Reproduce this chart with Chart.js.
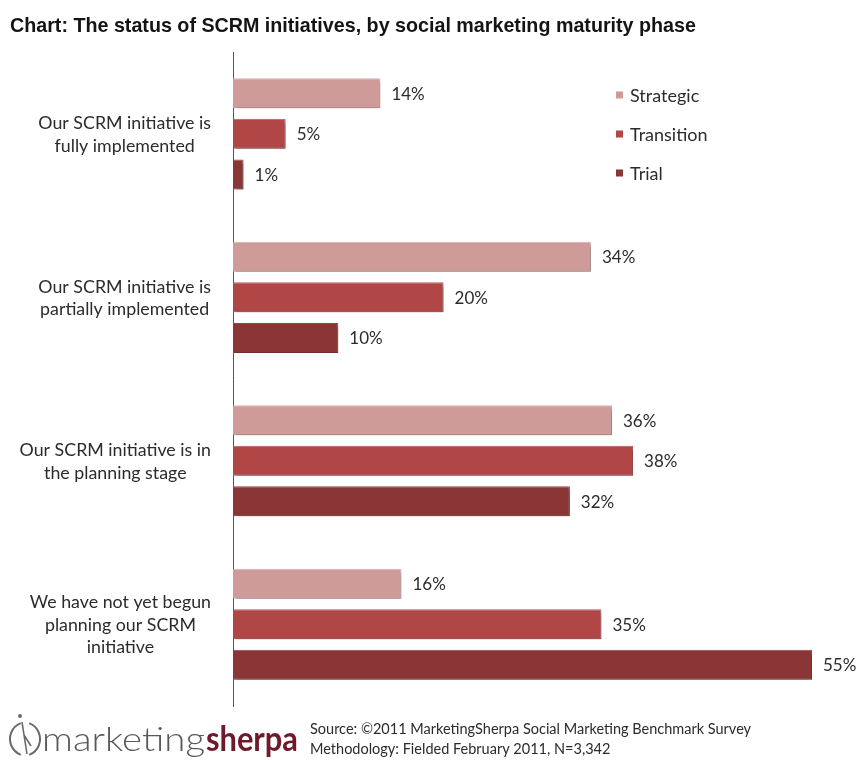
<!DOCTYPE html>
<html>
<head>
<meta charset="utf-8">
<script src="https://cdn.jsdelivr.net/npm/chart.js@4.4.1/dist/chart.umd.min.js"></script>
<style>
  html, body { margin: 0; padding: 0; background: #ffffff; }
  #wrap { width: 861px; height: 760px; }
</style>
</head>
<body>
<div id="wrap"><canvas id="c" width="861" height="760"></canvas></div>
<script>
// Survey answers (one wrapped label per category)
const categories = [
  ['Our SCRM initiative is', 'fully implemented'],
  ['Our SCRM initiative is', 'partially implemented'],
  ['Our SCRM initiative is in', 'the planning stage'],
  ['We have not yet begun', 'planning our SCRM', 'initiative']
];
const seriesNames = ['Strategic', 'Transition', 'Trial'];
const strategic = [14, 34, 36, 16];
const transition = [5, 20, 38, 35];
const trial = [1, 10, 32, 55];

const seriesColors = ['#cf9b99', '#b04646', '#8a3636'];
const seriesBorders = ['#dcaeac', '#c25656', '#9b4242'];

const titleText = 'Chart: The status of SCRM initiatives, by social marketing maturity phase';
const sourceLines = [
  'Source: \u00a92011 MarketingSherpa Social Marketing Benchmark Survey',
  'Methodology: Fielded February 2011, N=3,342'
];

const TEXT = '#2b2b2b';
const BODY_FONT = 'Lato, "Open Sans", sans-serif';

// Soft drop shadow under the bars, plus value labels at their ends
const barDecor = {
  id: 'barDecor',
  beforeDatasetsDraw(chart) {
    const ctx = chart.ctx;
    ctx.save();
    ctx.shadowColor = 'rgba(0,0,0,0.32)';
    ctx.shadowBlur = 3;
    ctx.shadowOffsetX = 2;
    ctx.shadowOffsetY = 3;
  },
  afterDatasetsDraw(chart) {
    const ctx = chart.ctx;
    ctx.restore();
    ctx.save();
    ctx.font = '17px ' + BODY_FONT;
    ctx.fillStyle = TEXT;
    ctx.textAlign = 'left';
    ctx.textBaseline = 'middle';
    chart.data.datasets.forEach((ds, di) => {
      chart.getDatasetMeta(di).data.forEach((bar, i) => {
        ctx.fillText(ds.data[i] + '%', bar.x + 11, bar.y + 1);
      });
    });
    ctx.restore();
  }
};

// Category labels: each block ends just left of the axis, lines centred within it
const categoryLabels = {
  id: 'categoryLabels',
  afterDraw(chart) {
    const ctx = chart.ctx;
    const y = chart.scales.y;
    const lineH = 22.5;
    const blockRight = 211;
    ctx.save();
    ctx.font = '17.8px ' + BODY_FONT;
    ctx.fillStyle = TEXT;
    ctx.textAlign = 'center';
    ctx.textBaseline = 'middle';
    categories.forEach((lines, i) => {
      const cy = y.getPixelForValue(i) + 1;
      const widest = Math.max(...lines.map(l => ctx.measureText(l).width));
      const cx = blockRight - widest / 2;
      const top = cy - (lines.length - 1) * lineH / 2;
      lines.forEach((l, k) => ctx.fillText(l, cx, top + k * lineH));
    });
    ctx.restore();
  }
};

// Legend drawn inside the plot area, top right
const sideLegend = {
  id: 'sideLegend',
  afterDraw(chart) {
    const ctx = chart.ctx;
    const rows = [95, 134, 173];
    ctx.save();
    ctx.font = '18px ' + BODY_FONT;
    ctx.textBaseline = 'middle';
    ctx.textAlign = 'left';
    chart.data.datasets.forEach((ds, i) => {
      ctx.fillStyle = ds.backgroundColor;
      ctx.fillRect(616, rows[i] - 3.5, 7, 7);
      ctx.fillStyle = TEXT;
      ctx.fillText(ds.label, 630, rows[i] + 1);
    });
    ctx.restore();
  }
};

// Publisher mark and source notes along the bottom
const footer = {
  id: 'footer',
  afterDraw(chart) {
    const ctx = chart.ctx;
    ctx.save();
    // emblem
    ctx.strokeStyle = '#6a6a6a';
    ctx.lineWidth = 2;
    ctx.beginPath();
    ctx.arc(27, 739, 17, Math.PI * 0.62, Math.PI * 1.38);
    ctx.stroke();
    ctx.beginPath();
    ctx.arc(23, 739, 17, -Math.PI * 0.38, Math.PI * 0.38);
    ctx.stroke();
    ctx.lineWidth = 1.6;
    ctx.beginPath();
    ctx.moveTo(22, 722);
    ctx.lineTo(27, 754);
    ctx.moveTo(24, 735);
    ctx.lineTo(31, 746);
    ctx.stroke();
    ctx.fillStyle = '#6a6a6a';
    ctx.beginPath();
    ctx.arc(20, 716, 2, 0, Math.PI * 2);
    ctx.fill();

    // wordmark
    ctx.textBaseline = 'alphabetic';
    ctx.textAlign = 'left';
    const drawFit = (txt, font, color, x, base, w) => {
      ctx.save();
      ctx.font = font;
      ctx.fillStyle = color;
      const m = ctx.measureText(txt).width;
      ctx.translate(x, base);
      ctx.scale(w / m, 1);
      ctx.fillText(txt, 0, 0);
      ctx.restore();
    };
    drawFit('marketing', '300 34px ' + BODY_FONT, '#595959', 42, 751, 163);
    drawFit('sherpa', 'bold 34px ' + BODY_FONT, '#6e1a2a', 206, 751, 92);

    // source notes
    ctx.font = '14.5px ' + BODY_FONT;
    ctx.fillStyle = TEXT;
    ctx.textBaseline = 'middle';
    ctx.fillText(sourceLines[0], 310, 729);
    ctx.fillText(sourceLines[1], 310, 749);
    ctx.restore();
  }
};

const seriesData = [strategic, transition, trial];

new Chart(document.getElementById('c'), {
  type: 'bar',
  data: {
    labels: categories,
    datasets: seriesNames.map((name, i) => ({
      label: name,
      data: seriesData[i],
      backgroundColor: seriesColors[i],
      borderColor: seriesBorders[i],
      borderWidth: 1,
      borderSkipped: 'left',
      categoryPercentage: 0.744,
      barPercentage: 0.74,
      clip: false
    }))
  },
  options: {
    indexAxis: 'y',
    responsive: false,
    animation: false,
    events: [],
    layout: { padding: { left: 10, right: 49, top: 0, bottom: 54 } },
    plugins: {
      legend: { display: false },
      tooltip: { enabled: false },
      title: {
        display: true,
        text: titleText,
        align: 'start',
        color: '#141414',
        font: { family: '"Liberation Sans", Arial, sans-serif', size: 19.7, weight: 'bold', lineHeight: 1.2 },
        padding: { top: 15, bottom: 13.5 }
      }
    },
    scales: {
      x: { display: false, min: 0, max: 55 },
      y: {
        grid: { display: false },
        border: { display: true, color: '#555555', width: 1 },
        ticks: { display: false },
        afterFit(scale) { scale.width = 223; }
      }
    }
  },
  plugins: [barDecor, categoryLabels, sideLegend, footer]
});
</script>
</body>
</html>
